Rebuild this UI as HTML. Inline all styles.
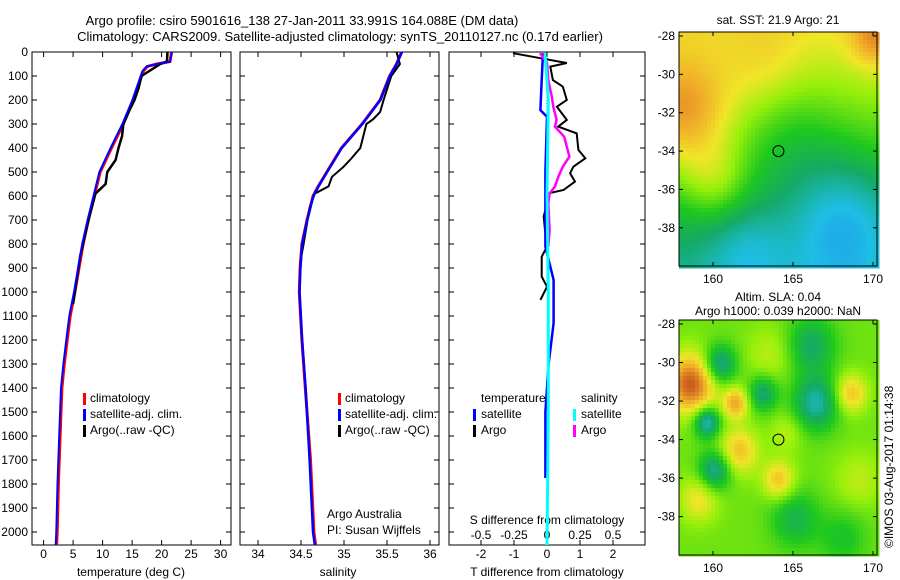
<!DOCTYPE html>
<html><head><meta charset="utf-8">
<style>
html,body{margin:0;padding:0;background:#fff;}
svg{display:block;font-family:"Liberation Sans",sans-serif;}
text{font-size:12px;fill:#000;}
</style></head>
<body>
<svg id="fig" width="900" height="580" viewBox="0 0 900 580" xmlns="http://www.w3.org/2000/svg">
<text x="302" y="25" text-anchor="middle" style="font-size:13px">Argo profile: csiro 5901616_138 27-Jan-2011 33.991S 164.088E (DM data)</text>
<text x="340" y="41" text-anchor="middle" style="font-size:13px">Climatology: CARS2009. Satellite-adjusted climatology: synTS_20110127.nc (0.17d earlier)</text>
<g id="maps"></g>
<g id="panels"></g>
<text transform="translate(893,548) rotate(-90)" style="font-size:12px">©IMOS 03-Aug-2017 01:14:38</text>
</svg>
<script>
// ---------- DATA ----------
const tClimDepth=[0,40,50,60,80,100,200,300,400,500,600,700,800,900,1000,1100,1200,1300,1400,1600,1800,2000,2054];
const tClim=[21.7,21.4,19.2,17.6,16.9,16.6,15.2,13.5,11.5,9.6,8.6,7.6,6.7,6.0,5.3,4.5,4.0,3.5,3.1,2.8,2.5,2.3,2.2];
const tArgoDepth=[0,40,50,100,150,200,250,300,350,400,450,500,550,590,700,850,950,1050];
const tArgo=[21.0,20.9,19.8,16.6,16.1,15.4,14.4,13.5,13.3,12.7,12.2,10.8,10.5,8.8,7.6,6.2,5.6,5.0];
const sClimDepth=[0,50,100,200,300,400,500,560,600,700,800,900,1000,1200,1400,1700,2000,2054];
const sClim=[35.67,35.61,35.53,35.42,35.21,34.97,34.80,34.70,34.64,34.57,34.51,34.49,34.48,34.51,34.55,34.61,34.65,34.67];
const sArgoDepth=[0,50,100,200,250,280,300,400,450,480,520,560,590,650,800,880];
const sArgo=[35.61,35.65,35.55,35.46,35.42,35.34,35.26,35.19,35.07,34.99,34.86,34.82,34.66,34.60,34.53,34.49];
const dTArgoDepth=[5,26,46,61,117,144,200,228,283,311,339,408,443,478,505,540,575,589,630,686,742,811,853,936,978,1033];
const dTArgo=[-1.03,-0.2,0.6,0.1,0.18,0.48,0.6,0.3,0.6,0.34,0.9,0.95,1.16,0.8,0.7,0.85,0.5,0.03,0,-0.1,-0.06,0,-0.16,-0.16,0,-0.2];
const dSArgoDepth=[5,46,117,186,228,283,311,353,436,478,519,561,589,630,742,811];
const dSArgo=[-0.053,0,0.01,0.036,0.048,0.073,0.06,0.13,0.17,0.12,0.086,0.06,0.02,0.01,0.02,0.01];
const dTSatDepth=[5,117,242,270,500,811,950,1130,1300,1500,1775];
const dTSat=[-0.12,-0.16,-0.2,0,-0.05,-0.05,0.2,0.2,0.05,-0.05,-0.05];
const dSSatDepth=[5,200,600,1000,1500,2054];
const dSSat=[-0.015,0.01,0.0,0.01,0.01,0.0];
const depthTicks=[0,100,200,300,400,500,600,700,800,900,1000,1100,1200,1300,1400,1500,1600,1700,1800,1900,2000];
const tTicks=[0,5,10,15,20,25,30];
const sTicks=[34,34.5,35,35.5,36];
const dTTicks=[-2,-1,0,1,2];
const dSTicks=[-0.5,-0.25,0,0.25,0.5];
const latTicks=[-28,-30,-32,-34,-36,-38];
const lonTicks=[160,165,170];

// ---------- helpers ----------
const NS="http://www.w3.org/2000/svg";
function mk(tag,attrs,parent){const e=document.createElementNS(NS,tag);for(const k in attrs)e.setAttribute(k,attrs[k]);parent.appendChild(e);return e;}
const TOP=52,BOT=545;
const yD=d=>TOP+d*0.24;
const xT=v=>43.6+v*5.9;
const xS=v=>258+(v-34)*86;
const xDT=v=>547+v*33;
const xDS=v=>547+v*132;
const panels=document.getElementById('panels');

function line(xs,ds,fx,color,w,name){
  let p='';
  for(let i=0;i<xs.length;i++){p+=(i?'L':'M')+fx(xs[i]).toFixed(1)+' '+yD(ds[i]).toFixed(1);}
  const e=mk('path',{d:p,fill:'none',stroke:color,'stroke-width':w,'stroke-linejoin':'miter'},panels);
  
  
}
function frame(x0,x1,name){
  const r=mk('rect',{x:x0,y:TOP,width:x1-x0,height:BOT-TOP,fill:'none',stroke:'#000','stroke-width':1},panels);
  
  
  depthTicks.forEach(d=>{
    mk('line',{x1:x0,x2:x0+5,y1:yD(d),y2:yD(d),stroke:'#000'},panels);
    mk('line',{x1:x1-5,x2:x1,y1:yD(d),y2:yD(d),stroke:'#000'},panels);
  });
}
function xticks(ticks,fx,ylab,labels){
  ticks.forEach((v,i)=>{
    const x=fx(v);
    mk('line',{x1:x,x2:x,y1:BOT,y2:BOT-5,stroke:'#000'},panels);
    mk('line',{x1:x,x2:x,y1:TOP,y2:TOP+5,stroke:'#000'},panels);
    const t=mk('text',{x:x,y:ylab,'text-anchor':'middle'},panels);
    t.textContent=labels?labels[i]:String(v);
    
    
  });
}
function txt(x,y,s,name,anchor){
  const t=mk('text',{x:x,y:y,'text-anchor':anchor||'start'},panels);
  t.textContent=s;
  
  
}
function leg(x,y,color,name){
  const r=mk('rect',{x:x,y:y-10,width:3,height:12,fill:color},panels);
  
  
}

// ---------- panel 1 temperature ----------
frame(32,231,'temperature-panel');
depthTicks.forEach(d=>{
  const t=mk('text',{x:28,y:yD(d)+4,'text-anchor':'end'},panels);
  t.textContent=String(d);
  
  
});
xticks(tTicks,xT,558);
txt(131,576,'temperature (deg C)','temperature-axis-title','middle');
line(tClim,tClimDepth,xT,'#f00',3,'temperature-climatology-line');
line(tArgo,tArgoDepth,xT,'#000',2.5,'temperature-argo-line');
line(tClim.map((v,i)=>v+(i<3?0.05:-0.15)),tClimDepth,xT,'#00f',2,'temperature-satellite-line');
leg(83,403,'#f00','legend-climatology');txt(90,402,'climatology','legend-climatology-label');
leg(83,419,'#00f','legend-satellite');txt(90,418,'satellite-adj. clim.','legend-satellite-label');
leg(83,435,'#000','legend-argo');txt(90,434,'Argo(..raw -QC)','legend-argo-label');

// ---------- panel 2 salinity ----------
frame(240,439,'salinity-panel');
xticks(sTicks,xS,558);
txt(338,576,'salinity','salinity-axis-title','middle');
line(sClim,sClimDepth,xS,'#f00',3,'salinity-climatology-line');
line(sArgo,sArgoDepth,xS,'#000',2,'salinity-argo-line');
line(sClim.map((v,i)=>v+(i>14?-0.01:0.003)),sClimDepth,xS,'#00f',2.5,'salinity-satellite-line');
leg(338,403,'#f00','legend-s-climatology');txt(345,402,'climatology','legend-s-climatology-label');
leg(338,419,'#00f','legend-s-satellite');txt(345,418,'satellite-adj. clim.','legend-s-satellite-label');
leg(338,435,'#000','legend-s-argo');txt(345,434,'Argo(..raw -QC)','legend-s-argo-label');
txt(327,518,'Argo Australia','credit-line-1');
txt(327,534,'PI: Susan Wijffels','credit-line-2');

// ---------- panel 3 differences ----------
frame(449,645,'difference-panel');
xticks(dTTicks,xDT,558);
dSTicks.forEach((v,i)=>{const t=mk('text',{x:xDS(v),y:539,'text-anchor':'middle'},panels);t.textContent=String(v);});
txt(547,524,'S difference from climatology','s-axis-title','middle');
txt(547,576,'T difference from climatology','t-axis-title','middle');
mk('line',{x1:547,x2:547,y1:TOP,y2:yD(1000),stroke:'#000','stroke-dasharray':'1,2'},panels);
line(dTArgo,dTArgoDepth,xDT,'#000',2,'t-diff-argo-line');
line(dTSat,dTSatDepth,xDT,'#00f',2.5,'t-diff-satellite-line');
line(dSArgo,dSArgoDepth,xDS,'#f0f',2.5,'s-diff-argo-line');
line(dSSat,dSSatDepth,xDS,'#0ff',3,'s-diff-satellite-line');
txt(481,402,'temperature','legend-temperature-heading');
leg(473,419,'#00f','legend-t-satellite');txt(481,418,'satellite','legend-t-satellite-label');
leg(473,435,'#000','legend-t-argo');txt(481,434,'Argo','legend-t-argo-label');
txt(581,402,'salinity','legend-salinity-heading');
leg(573,419,'#0ff','legend-s-sat');txt(581,418,'satellite','legend-s-sat-label');
leg(573,435,'#f0f','legend-s-argo-diff');txt(581,434,'Argo','legend-s-argo-diff-label');

// ---------- maps ----------
const maps=document.getElementById('maps');
const cmapStops=[[0,[30,110,230]],[0.18,[30,190,230]],[0.33,[20,170,100]],[0.45,[30,200,30]],[0.6,[150,240,10]],[0.72,[240,230,40]],[0.85,[240,170,40]],[1,[200,90,30]]];
function cmap(v){v=Math.max(0,Math.min(1,v));for(let i=1;i<cmapStops.length;i++){if(v<=cmapStops[i][0]){const a=cmapStops[i-1],b=cmapStops[i];const f=(v-a[0])/(b[0]-a[0]);return 'rgb('+a[1].map((c,k)=>Math.round(c+(b[1][k]-c)*f)).join(',')+')';}}return 'rgb(200,90,30)';}
const sstBlobs=[[158,-32,3,0.3],[160,-35.5,2,0.15],[168,-37.5,3.5,-0.22],[165,-33,3,-0.08],[170,-28,1.5,0.2],[162,-39,2.5,-0.12],[163,-29.5,2.5,0.08]];
const slaBlobs=[[158.5,-31,1.5,0.45],[160.3,-30,1,-0.3],[159.5,-33,0.8,-0.35],[161.3,-32,0.8,0.3],[161.5,-34.5,1.2,0.25],[160,-35.5,1,-0.3],[163,-31.5,0.9,-0.25],[164,-36,1,0.25],[166.3,-32,1.4,-0.3],[168.5,-31.5,1,0.25],[166,-29,1.5,-0.22],[163.5,-29.5,1.5,0.1],[165,-38,1.5,-0.18],[169,-36,1.5,0.1],[159,-37,1.2,0.18],[168,-39,1.5,-0.12],[164.5,-33.5,1,0.1]];
function field(blobs,base,grad,lon,lat){let v=base+grad*(lat+34);blobs.forEach(b=>{const r2=((lon-b[0])**2+(lat-b[1])**2)/(b[2]*b[2]);v+=b[3]*Math.exp(-r2);});return v;}
function drawMap(y0,y1,blobs,base,grad,cell,title1,title2,name){
  const x0=679,x1=877;
  const lx=v=>713+(v-160)*16;
  const g=mk('g',{},maps);
  
  
  for(let y=y0;y<y1;y+=cell){for(let x=x0;x<x1;x+=cell){
    const lon=158+(x-681)/16, lat=-28-(y-y0-4)/((y1-y0)/12.2);
    mk('rect',{x:x,y:y,width:cell+0.5,height:cell+0.5,fill:cmap(field(blobs,base,grad,lon,lat))},g);
  }}
  mk('rect',{x:x0,y:y0,width:x1-x0,height:y1-y0,fill:'none',stroke:'#000'},g);
  const pxPerDeg=(y1-y0)/12.2;
  latTicks.forEach(v=>{const y=y0+4+(-28-v)*pxPerDeg;mk('line',{x1:x0,x2:x0+4,y1:y,y2:y,stroke:'#000'},g);mk('line',{x1:x1-4,x2:x1,y1:y,y2:y,stroke:'#000'},g);const t=mk('text',{x:x0-4,y:y+4,'text-anchor':'end'},g);t.textContent=String(v);});
  lonTicks.forEach(v=>{const x=lx(v);mk('line',{x1:x,x2:x,y1:y1,y2:y1-4,stroke:'#000'},g);mk('line',{x1:x,x2:x,y1:y0,y2:y0+4,stroke:'#000'},g);const t=mk('text',{x:x,y:y1+17,'text-anchor':'middle'},g);t.textContent=String(v);});
  const cy=y0+4+6*pxPerDeg;
  const c=mk('circle',{cx:lx(164.09),cy:cy,r:5.5,fill:'none',stroke:'#000','stroke-width':1},g);
  
  
  if(title1){const t=mk('text',{x:778,y:title2?y0-19:y0-8,'text-anchor':'middle'},g);t.textContent=title1;}
  if(title2){const t=mk('text',{x:778,y:y0-5,'text-anchor':'middle'},g);t.textContent=title2;}
}
drawMap(32,266,sstBlobs,0.5,0.035,4,'sat. SST: 21.9 Argo: 21',null,'sst-map');
drawMap(320,555,slaBlobs,0.55,0,4,'Altim. SLA: 0.04','Argo h1000: 0.039 h2000: NaN','sla-map');
</script>
</body></html>
